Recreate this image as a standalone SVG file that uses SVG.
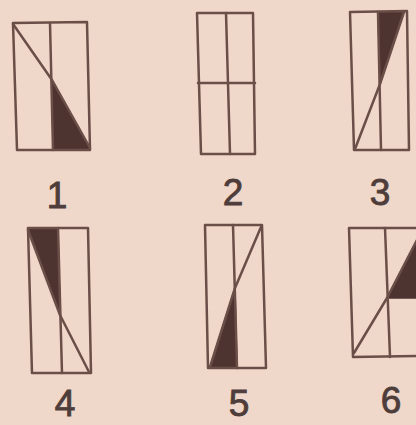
<svg xmlns="http://www.w3.org/2000/svg" width="416" height="425" viewBox="0 0 416 425">
<style>
.ln{fill:none;stroke:#6a4f48;stroke-width:2.5;stroke-linejoin:round;stroke-linecap:round}
.sh{fill:#4d3431;stroke:#4d3431;stroke-width:1.5;stroke-linejoin:round}
.lb{font-family:"Liberation Sans",Arial,sans-serif;font-size:37px;fill:#4e3d3a;stroke:#4e3d3a;stroke-width:0.9;text-anchor:middle}
</style>
<rect x="0" y="0" width="416" height="425" fill="#efd7ca"/>
<g id="fig1">
<polygon class="sh" points="52,80 53,149 90,149"/>
<polygon class="ln" points="13,23 87,22 90,150 17,150"/>
<line class="ln" x1="50" y1="23" x2="53" y2="150"/>
<polyline class="ln" points="13,24 52,80 90,148"/>
<text class="lb" x="57" y="208">1</text>
</g>
<g id="fig2">
<polygon class="ln" points="197,13 253,13 255,154 201,154"/>
<line class="ln" x1="226" y1="13" x2="230" y2="154"/>
<line class="ln" x1="198" y1="83" x2="255" y2="83"/>
<text class="lb" x="233" y="205">2</text>
</g>
<g id="fig3">
<polygon class="sh" points="378,12 404,12 380,84"/>
<polygon class="ln" points="350,12 407,11 409,150 354,150"/>
<line class="ln" x1="378" y1="12" x2="381" y2="150"/>
<polyline class="ln" points="355,149 380,84 404,12"/>
<text class="lb" x="380" y="205">3</text>
</g>
<g id="fig4">
<polygon class="sh" points="29,229 58,229 60,314"/>
<polygon class="ln" points="28,228 88,228 91,373 32,373"/>
<line class="ln" x1="58" y1="228" x2="62" y2="373"/>
<polyline class="ln" points="28,230 60,315 89,372"/>
<text class="lb" x="65" y="416">4</text>
</g>
<g id="fig5">
<polygon class="sh" points="235,288 237,367 210,367"/>
<polygon class="ln" points="205,225 262,225 266,368 208,368"/>
<line class="ln" x1="233" y1="225" x2="237" y2="368"/>
<polyline class="ln" points="261,227 235,288 210,367"/>
<text class="lb" x="239" y="416">5</text>
</g>
<g id="fig6">
<polygon class="sh" points="387,298 417,298 417,240"/>
<polyline class="ln" points="418,228 349,228 353,357 418,356"/>
<line class="ln" x1="385" y1="228" x2="390" y2="357"/>
<polyline class="ln" points="354,353 387,298 418,238"/>
<text class="lb" x="391" y="413">6</text>
</g>
</svg>
